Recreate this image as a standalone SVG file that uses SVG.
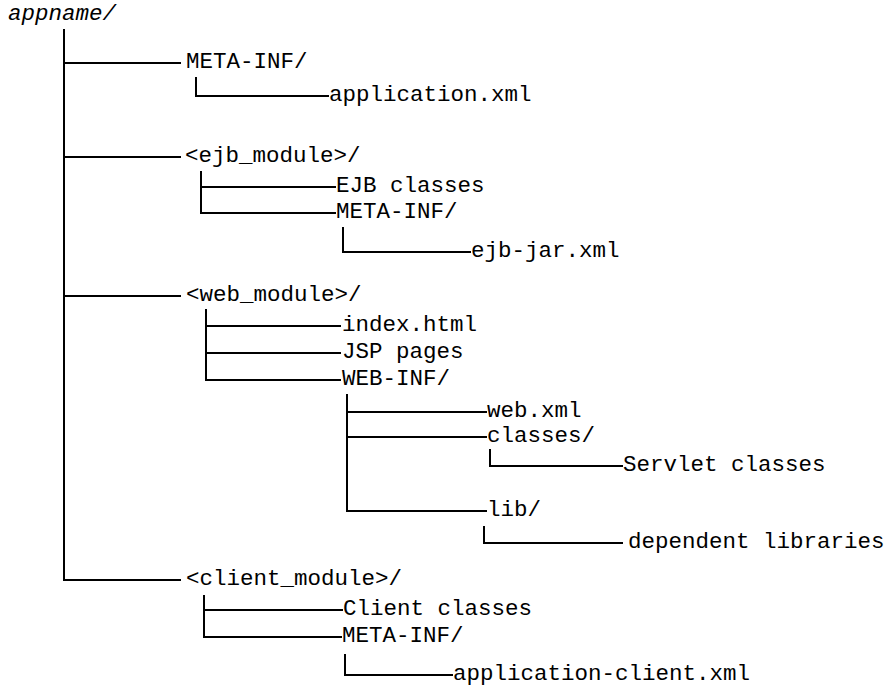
<svg xmlns="http://www.w3.org/2000/svg" width="889" height="687" viewBox="0 0 889 687">
  <style>
    .bg { fill: #ffffff; }
    .wire { stroke: #000000; stroke-width: 2; fill: none; stroke-linecap: square; }
    .lbl { font-family: "Liberation Mono", "Courier New", monospace; font-size: 22.5px; fill: #000000; }
    .root { font-style: italic; }
  </style>
  <rect class="bg" x="0" y="0" width="889" height="687"/>

  <!-- tree connectors -->
  <g id="connectors" class="wire">
    <!-- trunk from appname/ -->
    <path d="M64 30 V580"/>
    <path d="M64 63 H180 M64 157 H180 M64 296 H180 M64 580 H180"/>
    <!-- META-INF/ -->
    <path d="M196 78 V96 H328"/>
    <!-- ejb module -->
    <path d="M201 172 V213 H335 M201 187 H335"/>
    <path d="M343 228 V252 H470"/>
    <!-- web module -->
    <path d="M206 310 V380 H340 M206 326 H340 M206 353 H340"/>
    <path d="M347 395 V511 H486 M347 412 H486 M347 437 H486"/>
    <path d="M490 450 V466 H622"/>
    <path d="M484 527 V543 H622"/>
    <!-- client module -->
    <path d="M204 596 V637 H341 M204 610 H342"/>
    <path d="M345 655 V675 H452"/>
  </g>

  <g id="appname"><text class="lbl root" x="8" y="20">appname/</text></g>
  <g id="meta-inf"><text class="lbl" x="186" y="68">META-INF/</text></g>
  <g id="application-xml"><text class="lbl" x="329" y="101">application.xml</text></g>

  <g id="ejb-module"><text class="lbl" x="185" y="162">&lt;ejb_module&gt;/</text></g>
  <g id="ejb-classes"><text class="lbl" x="336" y="192">EJB classes</text></g>
  <g id="ejb-meta-inf"><text class="lbl" x="336" y="218">META-INF/</text></g>
  <g id="ejb-jar-xml"><text class="lbl" x="471" y="257">ejb-jar.xml</text></g>

  <g id="web-module"><text class="lbl" x="186" y="301">&lt;web_module&gt;/</text></g>
  <g id="index-html"><text class="lbl" x="342" y="331">index.html</text></g>
  <g id="jsp-pages"><text class="lbl" x="342" y="358">JSP pages</text></g>
  <g id="web-inf"><text class="lbl" x="342" y="385">WEB-INF/</text></g>
  <g id="web-xml"><text class="lbl" x="487" y="417">web.xml</text></g>
  <g id="classes"><text class="lbl" x="487" y="442">classes/</text></g>
  <g id="servlet-classes"><text class="lbl" x="623" y="471">Servlet classes</text></g>
  <g id="lib"><text class="lbl" x="487" y="516">lib/</text></g>
  <g id="dependent-libraries"><text class="lbl" x="628" y="548">dependent libraries</text></g>

  <g id="client-module"><text class="lbl" x="186" y="585">&lt;client_module&gt;/</text></g>
  <g id="client-classes"><text class="lbl" x="343" y="615">Client classes</text></g>
  <g id="client-meta-inf"><text class="lbl" x="342" y="642">META-INF/</text></g>
  <g id="application-client-xml"><text class="lbl" x="453" y="680">application-client.xml</text></g>
</svg>
